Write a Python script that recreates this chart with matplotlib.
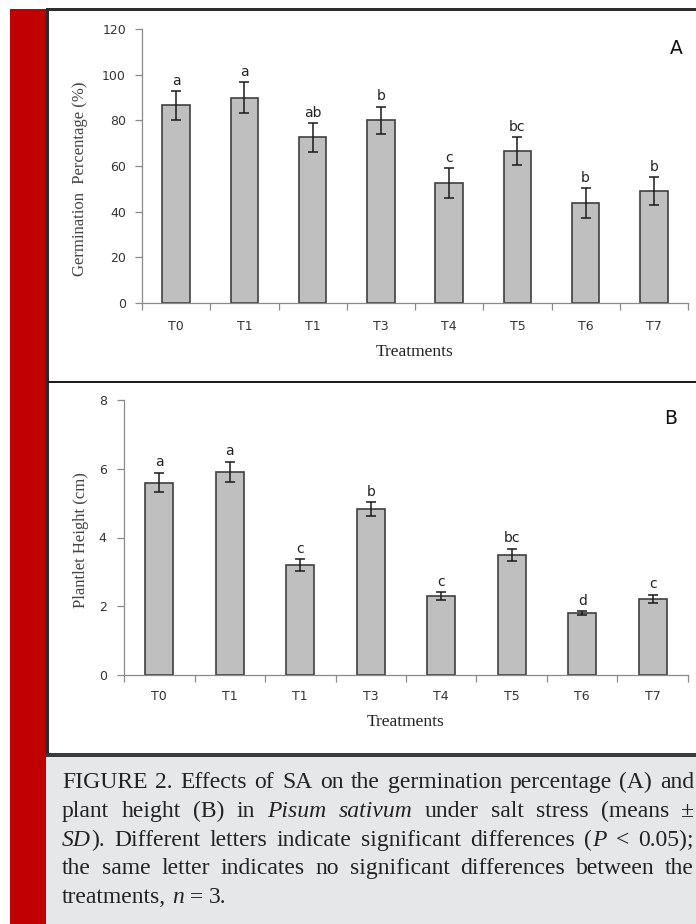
import numpy as np
import matplotlib
matplotlib.use("Agg")
import matplotlib.pyplot as plt
from matplotlib.patches import Rectangle

# values
treatments = ["T0", "T1", "T1", "T3", "T4", "T5", "T6", "T7"]
germ_mean = [86.5, 90.0, 72.5, 80.0, 52.5, 66.5, 43.8, 49.0]
germ_sd = [6.3, 6.6, 6.3, 6.0, 6.5, 6.0, 6.4, 6.0]
germ_letters = ["a", "a", "ab", "b", "c", "bc", "b", "b"]
height_mean = [5.6, 5.9, 3.2, 4.83, 2.3, 3.5, 1.8, 2.22]
height_sd = [0.29, 0.30, 0.17, 0.20, 0.11, 0.18, 0.06, 0.12]
height_letters = ["a", "a", "c", "b", "c", "bc", "d", "c"]

W, H = 696, 924
SERIF = "Liberation Serif"


def px_rect(left, top, right, bottom):
    # axes rect from pixel box (y measured from top)
    return [left / W, 1 - bottom / H, (right - left) / W, (bottom - top) / H]


def bar_panel(ax, means, sds, letters, ylim, yticks, ylabel, tag, ypad, xpad):
    x = np.arange(len(treatments))
    ax.bar(x, means, width=0.4, color="#bfbfbf", edgecolor="#3f3f3f", linewidth=1.2, zorder=2)
    ax.errorbar(x, means, yerr=sds, fmt="none", ecolor="#1a1a1a", elinewidth=1.1,
                capsize=3.3, capthick=1.1, zorder=3)
    for xi, m, s, lab in zip(x, means, sds, letters):
        ax.annotate(lab, (xi, m + s), xytext=(0, 2.5), textcoords="offset points",
                    ha="center", va="bottom", fontsize=10, color="#222222")
    ax.set_xlim(-0.5, len(treatments) - 0.5)
    ax.set_ylim(*ylim)
    ax.set_yticks(yticks)
    ax.set_xticks(x)
    ax.set_xticklabels(treatments)
    ax.set_xticks(np.arange(-0.5, len(treatments), 1), minor=True)
    for s in ["top", "right"]:
        ax.spines[s].set_visible(False)
    for s in ["left", "bottom"]:
        ax.spines[s].set_color("#8a8a8a")
        ax.spines[s].set_linewidth(0.9)
    ax.tick_params(axis="x", which="major", length=0, pad=xpad, labelsize=9, labelcolor="#333333")
    ax.tick_params(axis="x", which="minor", length=5, width=0.9, color="#8a8a8a")
    ax.tick_params(axis="y", length=5, width=0.9, color="#8a8a8a", pad=ypad,
                   labelsize=9, labelcolor="#333333")
    ax.set_ylabel(ylabel, family=SERIF, fontsize=12, color="#444444")
    ax.set_xlabel("Treatments", family=SERIF, fontsize=12.5, color="#222222")
    ax.xaxis.label.set_va("center")
    ax.yaxis.label.set_va("center")
    ax.text(tag[1], tag[2], tag[0], transform=ax.transAxes, ha="center", va="center",
            fontsize=13.5, color="#111111")


def caption(fig, lines, x0, x1, baselines, size):
    renderer = fig.canvas.get_renderer()
    space = size * 100 / 72 * 0.25
    for words, yb, justify in zip(lines, baselines, [True, True, True, True, False]):
        placed = []
        widths = []
        for word in words:
            segs = []
            for s, st in word:
                t = fig.text(0, 1 - yb / H, s, family=SERIF, fontstyle=st, fontsize=size,
                             color="#222222", ha="left", va="baseline")
                segs.append((t, t.get_window_extent(renderer).width))
            placed.append(segs)
            widths.append(sum(w for _, w in segs))
        gap = space
        if justify:
            gap = max(space * 0.8, (x1 - x0 - sum(widths)) / (len(words) - 1))
        x = x0
        for segs, wt in zip(placed, widths):
            xx = x
            for t, w in segs:
                t.set_x(xx / W)
                xx += w
            x += wt + gap


def main():
    fig = plt.figure(figsize=(W / 100, H / 100), dpi=100)
    fig.patch.set_facecolor("white")

    # page decoration: red margin bar, frame and caption box
    deco = [
        (10, 9, 46, H, "#c00000"),
        (46, 757, W, H, "#e6e7e9"),
        (46, 8, W, 11, "#2e2e2e"),
        (46, 9, 49, 757, "#2a2a2a"),
        (48, 381, W, 383, "#1e1e1e"),
        (46, 753, W, 757, "#3a3a3a"),
    ]
    for l, t, r, b, c in deco:
        fig.patches.append(Rectangle((l / W, 1 - b / H), (r - l) / W, (b - t) / H,
                                     transform=fig.transFigure, facecolor=c,
                                     edgecolor="none", zorder=0))

    ax1 = fig.add_axes(px_rect(142, 29, 688, 303))
    bar_panel(ax1, germ_mean, germ_sd, germ_letters, (0, 120), range(0, 121, 20),
              "Germination  Percentage (%)", ("A", 0.978, 0.93), 6.5, 12.5)
    ax1.yaxis.set_label_coords(-0.114, 0.453)
    ax1.xaxis.set_label_coords(0.5, -0.179)

    ax2 = fig.add_axes(px_rect(124, 400, 688, 675))
    bar_panel(ax2, height_mean, height_sd, height_letters, (0, 8), range(0, 9, 2),
              "Plantlet Height (cm)", ("B", 0.97, 0.934), 7.5, 11)
    ax2.yaxis.set_label_coords(-0.076, 0.49)
    ax2.xaxis.set_label_coords(0.5, -0.171)

    n, i = "normal", "italic"
    lines = [
        [[("FIGURE", n)], [("2.", n)], [("Effects", n)], [("of", n)], [("SA", n)], [("on", n)],
         [("the", n)], [("germination", n)], [("percentage", n)], [("(A)", n)], [("and", n)]],
        [[("plant", n)], [("height", n)], [("(B)", n)], [("in", n)], [("Pisum", i)],
         [("sativum", i)], [("under", n)], [("salt", n)], [("stress", n)], [("(means", n)],
         [("±", n)]],
        [[("SD", i), (").", n)], [("Different", n)], [("letters", n)], [("indicate", n)],
         [("significant", n)], [("differences", n)], [("(", n), ("P", i)], [("<", n)],
         [("0.05);", n)]],
        [[("the", n)], [("same", n)], [("letter", n)], [("indicates", n)], [("no", n)],
         [("significant", n)], [("differences", n)], [("between", n)], [("the", n)]],
        [[("treatments,", n)], [("n", i)], [("=", n)], [("3.", n)]],
    ]
    caption(fig, lines, 62, 694, [788, 817, 846, 874, 903], 17)

    fig.savefig("out.png", dpi=100)


if __name__ == "__main__":
    main()
